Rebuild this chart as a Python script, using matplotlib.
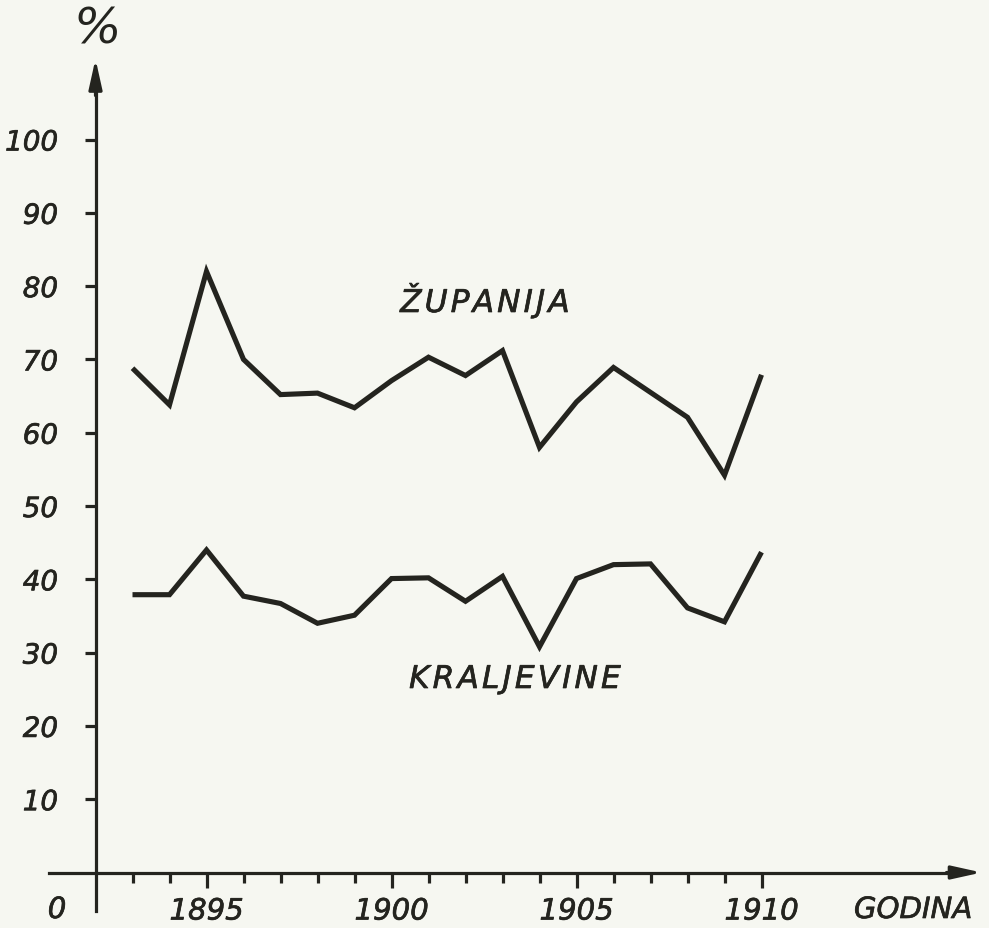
import matplotlib
matplotlib.use("Agg")
import matplotlib.pyplot as plt
import matplotlib.patheffects as pe
from matplotlib.ticker import FixedLocator, NullFormatter

# ---- data ----
years = [1893, 1894, 1895, 1896, 1897, 1898, 1899, 1900, 1901, 1902,
         1903, 1904, 1905, 1906, 1907, 1908, 1909, 1910]
zupanija = [68.8, 63.8, 82.0, 70.0, 65.2, 65.4, 63.4, 67.1, 70.3, 67.8,
            71.2, 58.0, 64.2, 68.9, 65.5, 62.1, 54.2, 67.9]
kraljevine = [37.9, 37.9, 44.0, 37.7, 36.7, 34.0, 35.1, 40.1, 40.2, 37.0,
              40.4, 30.8, 40.1, 42.0, 42.1, 36.1, 34.2, 43.7]
x_major = [1895, 1900, 1905, 1910]
x_major_labels = ["1895", "1900", "1905", "1910"]
y_ticks = [10, 20, 30, 40, 50, 60, 70, 80, 90, 100]
y_tick_labels = ["10", "20", "30", "40", "50", "60", "70", "80", "90", "100"]

INK = "#24241f"
PAPER = "#f6f7f1"
W, H = 989, 929

fig = plt.figure(figsize=(W / 100, H / 100), dpi=100, facecolor=PAPER)
ax = fig.add_axes([0, 0, 1, 1])
ax.set_facecolor(PAPER)

# pixel-calibrated limits
px_per_year = 37.0
x1895 = 206.5
ax.set_xlim(1895 - x1895 / px_per_year, 1895 + (W - x1895) / px_per_year)
y0 = 873.5
px_per_unit = 7.33
ax.set_ylim(-(H - y0) / px_per_unit, y0 / px_per_unit)

ax.plot(years, zupanija, color=INK, lw=3.7, solid_joinstyle="miter",
        solid_capstyle="butt")
ax.plot(years, kraljevine, color=INK, lw=3.7, solid_joinstyle="miter",
        solid_capstyle="butt")

# axes as spines crossing at (1892, 0)
for s in ("top", "right"):
    ax.spines[s].set_visible(False)
ax.spines["left"].set_position(("data", 1892))
ax.spines["bottom"].set_position(("data", 0))
ax.spines["left"].set_bounds(-5.2, 108)
ax.spines["bottom"].set_bounds(1890.75, 1915.5)
for s in ("left", "bottom"):
    ax.spines[s].set_linewidth(2.3)
    ax.spines[s].set_color(INK)

arrow = dict(arrowstyle="-|>,head_length=0.9,head_width=0.2", lw=2.3,
             color=INK, mutation_scale=20, shrinkA=0, shrinkB=0)
ax.annotate("", xy=(1892, 111), xytext=(1892, 106), arrowprops=arrow)
ax.annotate("", xy=(1915.95, 0), xytext=(1915.0, 0), arrowprops=arrow)

heavy = [pe.withStroke(linewidth=0.5, foreground=INK)]

# ticks
ax.yaxis.set_major_locator(FixedLocator(y_ticks))
ax.set_yticklabels(y_tick_labels)
ax.tick_params(axis="y", direction="out", length=8, width=2.3, color=INK,
               pad=19, labelsize=20, labelcolor=INK)
for lab in ax.get_yticklabels():
    lab.set_fontstyle("italic")
    lab.set_path_effects(heavy)

ax.xaxis.set_major_locator(FixedLocator(x_major))
ax.set_xticklabels(x_major_labels)
ax.xaxis.set_minor_locator(FixedLocator(years))
ax.xaxis.set_minor_formatter(NullFormatter())
ax.tick_params(axis="x", which="major", direction="out", length=11, width=2.3,
               color=INK, pad=7, labelsize=21, labelcolor=INK)
ax.tick_params(axis="x", which="minor", direction="out", length=7, width=2.3,
               color=INK)
for lab in ax.get_xticklabels():
    lab.set_fontstyle("italic")
    lab.set_path_effects(heavy)

# texts
def fx(px):
    return px / W

def fy(py):
    return 1 - py / H

hs = "\u200a"
fig.text(fx(97), fy(29), "%", fontsize=36, style="italic", color=INK,
         ha="center", va="center")
fig.text(fx(57), fy(911), "0", fontsize=21, style="italic", color=INK,
         ha="center", va="center", path_effects=heavy)
fig.text(fx(913), fy(911), "GODINA", fontsize=21, style="italic", color=INK,
         ha="center", va="center", path_effects=heavy)
fig.text(fx(485), fy(313), hs.join("ŽUPANIJA"), fontsize=22.5, style="italic",
         color=INK, ha="center", va="baseline", path_effects=heavy)
fig.text(fx(515), fy(689), hs.join("KRALJEVINE"), fontsize=22.5, style="italic",
         color=INK, ha="center", va="baseline", path_effects=heavy)

fig.savefig("out.png", dpi=100, facecolor=PAPER)
